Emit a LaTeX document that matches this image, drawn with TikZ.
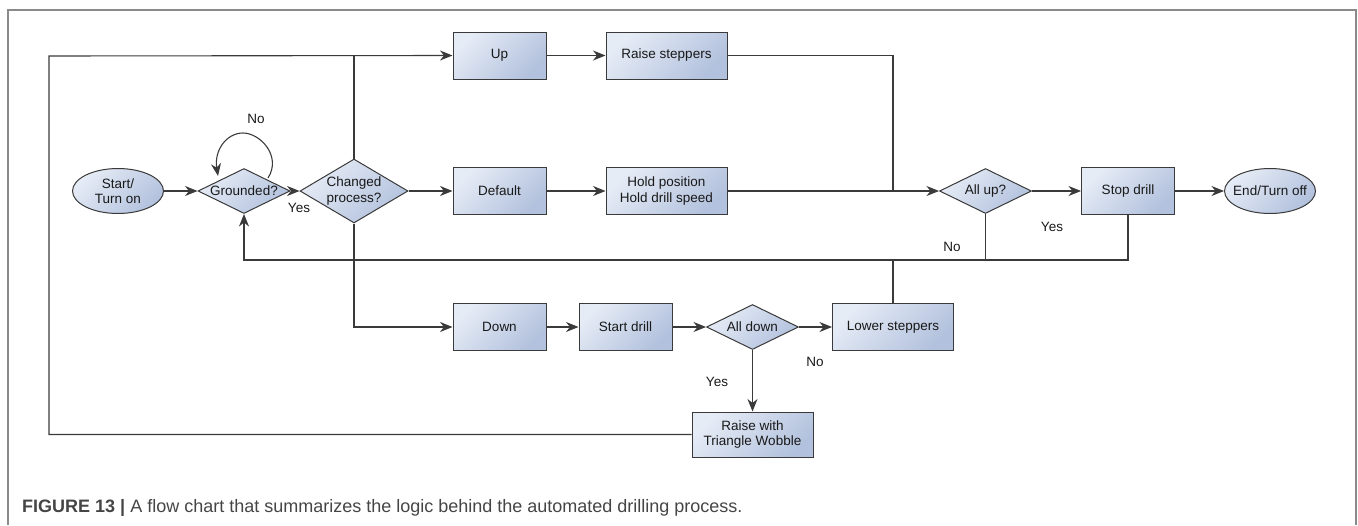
\documentclass[tikz,border=0pt]{standalone}
\usepackage{fontspec}
\setmainfont{Liberation Sans}
\usetikzlibrary{shapes.geometric,arrows.meta,calc}
\definecolor{fillA}{HTML}{E6ECF6}
\definecolor{fillB}{HTML}{B2C1DD}
\definecolor{edge}{HTML}{3A3A3A}
\definecolor{framec}{HTML}{8A8A8A}
\definecolor{capc}{HTML}{454545}
\tikzset{
  shadefill/.style={draw=edge, line width=1pt, top color=fillA, bottom color=fillB, shading angle=45},
  proc/.style={shadefill, rectangle, minimum width=93pt, minimum height=47pt, inner sep=1pt, align=center, font=\fontsize{13.5}{15.5}\selectfont, text=black!90},
  wproc/.style={proc, minimum width=121pt},
  dec/.style={shadefill, diamond, minimum width=92pt, minimum height=45pt, inner sep=0pt},
  term/.style={shadefill, ellipse, minimum width=91pt, minimum height=45pt, inner sep=0pt},
  ctext/.style={label={[align=center, font=\fontsize{13.5}{15.5}\selectfont, text=black!90]center:#1}},
  conn/.style={draw=edge, line width=1.1pt},
  arrow/.style={conn, -{Stealth[length=12.5pt, width=10pt, inset=4pt]}},
  lbl/.style={font=\fontsize{13.5}{15.5}\selectfont, text=black!90}
}
\begin{document}
\begin{tikzpicture}[x=1pt, y=-1pt]
\useasboundingbox (0,0) rectangle (1358,525);
% frame
\draw[framec, line width=1.4pt] (8,525) -- (8,10) -- (1356,10) -- (1356,525);

% nodes
\node[term, ctext={Start/\\Turn on}] (st) at (118,191) {};
\node[dec, ctext={Grounded?}] (gr) at (244,191) {};
\node[dec, minimum width=108pt, minimum height=64pt, ctext={Changed\\process?}] (ch) at (354,191) {};
\node[proc] (up) at (499.5,55.5) {Up};
\node[wproc] (rs) at (666.5,55.5) {Raise steppers};
\node[proc] (df) at (499.5,191) {Default};
\node[wproc] (hp) at (666.5,191) {Hold position\\Hold drill speed};
\node[dec, ctext={All up?}] (au) at (985.5,191) {};
\node[proc] (sp) at (1128,191) {Stop drill};
\node[term, ctext={End/Turn off}] (en) at (1270,191) {};
\node[proc] (dn) at (499.5,327) {Down};
\node[proc] (sd) at (625.5,327) {Start drill};
\node[dec, ctext={All down}] (ad) at (752.5,327) {};
\node[wproc] (ls) at (893,327) {Lower steppers};
\node[wproc, minimum height=45pt] (rw) at (752.5,434.5) {Raise with\\Triangle Wobble};

% helper coordinates
\coordinate (lc) at (49,56);
\coordinate (jn) at (893,191);
\coordinate (fy) at (0,260);
\coordinate (lt) at ($(gr.north)+(-1,-35)$);

% connectors
\draw[arrow] (st) -- (gr);
\draw[arrow] (gr) -- (ch);
\draw[arrow] ($(gr.north)+(24,10)$) .. controls +(14,-22) and +(17,0) .. (lt)
             .. controls +(-17,0) and +(-4,-25) .. ($(gr.north)+(-26,8)$);
\draw[conn] (ch.north) -- (ch.north |- lc);
\draw[arrow] (rw.west) -| (lc) -- (up.west);
\draw[arrow] (ch) -- (df);
\draw[arrow] (up) -- (rs);
\draw[arrow] (df) -- (hp);
\draw[conn] (rs.east) -| (jn);
\draw[arrow] (hp) -- (au);
\draw[arrow] (au) -- (sp);
\draw[arrow] (sp) -- (en);
\draw[arrow] (sp.south) -- (sp.south |- fy) -| (gr.south);
\draw[conn] (au.south) -- (au.south |- fy);
\draw[conn] (ls.north) -- (ls.north |- fy);
\draw[arrow] (ch.south) |- (dn.west);
\draw[arrow] (dn) -- (sd);
\draw[arrow] (sd) -- (ad);
\draw[arrow] (ad) -- (ls);
\draw[arrow] (ad) -- (rw);

% labels
\node[lbl] (l1) at (256,119) {No};
\node[lbl] (l2) at (299,208) {Yes};
\node[lbl] (l3) at (952,247) {No};
\node[lbl] (l4) at (1052,227) {Yes};
\node[lbl] (l5) at (717,382) {Yes};
\node[lbl] (l6) at (815,362) {No};

% caption
\node[anchor=west, text=capc, font=\fontsize{18}{21}\selectfont, inner sep=0pt] (cap) at (22,508) {\textbf{FIGURE 13 |} A flow chart that summarizes the logic behind the automated drilling process.};
\end{tikzpicture}
\end{document}
